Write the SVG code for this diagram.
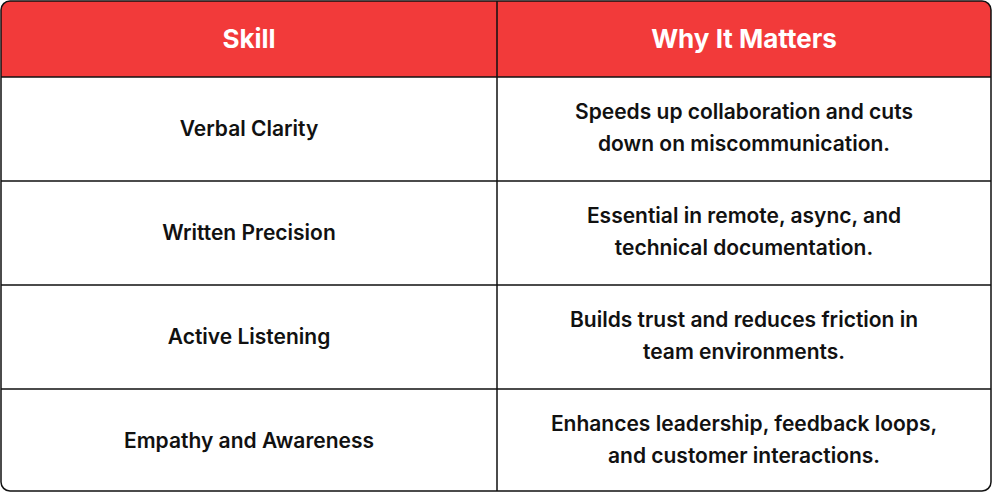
<svg xmlns="http://www.w3.org/2000/svg" width="992" height="492" viewBox="0 0 992 492">
<style>
.h{font-family:Inter,"Liberation Sans",sans-serif;font-weight:700;font-size:26px;fill:#fff;text-anchor:middle}
.t{font-family:Inter,"Liberation Sans",sans-serif;font-weight:600;font-size:21px;fill:#111;text-anchor:middle}
.l{stroke:#111;stroke-width:1.5;fill:none}
</style>
<defs><clipPath id="c"><rect x="1" y="1" width="990" height="490" rx="9"/></clipPath></defs>
<g id="table">
<rect x="1" y="1" width="990" height="490" rx="9" fill="#fff"/>
<rect x="1" y="1" width="990" height="76" fill="#F23A3A" clip-path="url(#c)"/>
</g>
<g id="grid">
<path class="l" d="M1 77H991M1 181H991M1 285H991M1 389H991M497 1V491"/>
<rect class="l" x="1" y="1" width="990" height="490" rx="9"/>
</g>
<g id="header"><text class="h" x="249" y="48">Skill</text><text class="h" x="744" y="48">Why It Matters</text></g>
<g id="row1"><text class="t" x="249" y="136">Verbal Clarity</text><text class="t" x="744" y="119">Speeds up collaboration and cuts</text><text class="t" x="744" y="151">down on miscommunication.</text></g>
<g id="row2"><text class="t" x="249" y="240">Written Precision</text><text class="t" x="744" y="223">Essential in remote, async, and</text><text class="t" x="744" y="255">technical documentation.</text></g>
<g id="row3"><text class="t" x="249" y="344">Active Listening</text><text class="t" x="744" y="327">Builds trust and reduces friction in</text><text class="t" x="744" y="359">team environments.</text></g>
<g id="row4"><text class="t" x="249" y="448">Empathy and Awareness</text><text class="t" x="744" y="431">Enhances leadership, feedback loops,</text><text class="t" x="744" y="463">and customer interactions.</text></g>
</svg>
